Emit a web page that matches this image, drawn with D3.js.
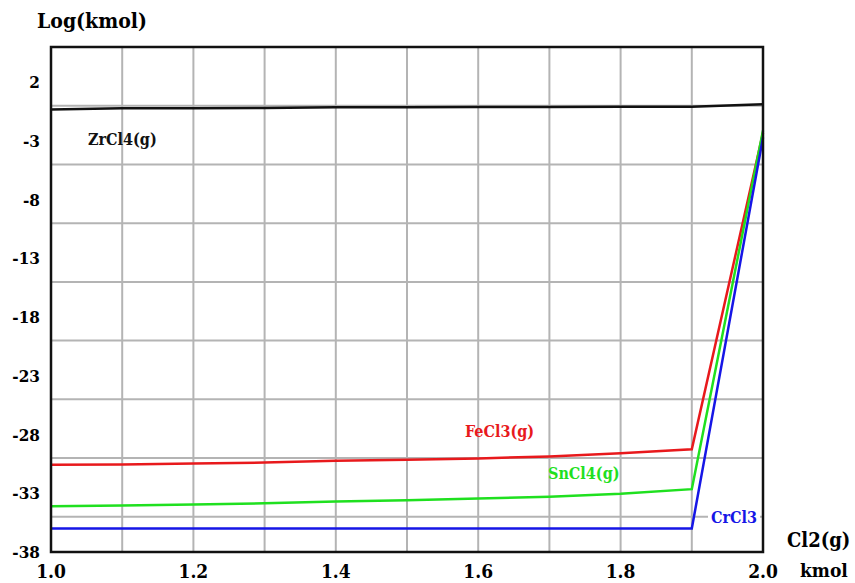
<!DOCTYPE html>
<html>
<head>
<meta charset="utf-8">
<script src="https://cdn.jsdelivr.net/npm/d3@7"></script>
<style>
  body { margin: 0; background: #fff; }
</style>
</head>
<body>
<div id="chart"></div>
<script>
// x values: Cl2(g) kmol
const xValues = [1.0, 1.1, 1.2, 1.3, 1.4, 1.5, 1.6, 1.7, 1.8, 1.9, 2.0];
// Log(kmol) per species
const zrcl4 = [-0.32, -0.22, -0.22, -0.2, -0.12, -0.12, -0.1, -0.1, -0.09, -0.08, 0.12];
const fecl3 = [-30.58, -30.54, -30.47, -30.38, -30.24, -30.15, -30.03, -29.86, -29.6, -29.26, -2.3];
const sncl4 = [-34.1, -34.05, -33.95, -33.85, -33.7, -33.6, -33.45, -33.3, -33.05, -32.65, -2.1];
const crcl3 = [-36, -36, -36, -36, -36, -36, -36, -36, -36, -36, -2.7];

const yTickLabels = [2, -3, -8, -13, -18, -23, -28, -33, -38];
const yGrid = [0, -5, -10, -15, -20, -25, -30, -35];
const xGrid = [1.1, 1.2, 1.3, 1.4, 1.5, 1.6, 1.7, 1.8, 1.9];
const xTickLabels = [1.0, 1.2, 1.4, 1.6, 1.8, 2.0];

const series = [
    { name: "ZrCl4(g)", values: zrcl4, color: "#111111", lx: 88, ly: 145 },
    { name: "FeCl3(g)", values: fecl3, color: "#e8191c", lx: 465, ly: 437 },
    { name: "SnCl4(g)", values: sncl4, color: "#1fe01f", lx: 548, ly: 479 },
    { name: "CrCl3", values: crcl3, color: "#1616e6", lx: 711, ly: 523 }
];

const W = 855, H = 583;
const margin = { top: 47, right: 92, bottom: 31, left: 51 };
const serif = "'DejaVu Serif Condensed', 'DejaVu Serif', serif";

const svg = d3.select("#chart").append("svg")
    .attr("width", W)
    .attr("height", H)
    .style("font-family", serif)
    .style("font-stretch", "condensed")
    .style("font-weight", "bold");

const xScale = d3.scaleLinear().domain([1.0, 2.0]).range([margin.left, W - margin.right]);
const yScale = d3.scaleLinear().domain([5, -38]).range([margin.top, H - margin.bottom]);

// grid
svg.append("g")
    .selectAll("line")
    .data(xGrid)
    .join("line")
    .attr("x1", d => xScale(d)).attr("x2", d => xScale(d))
    .attr("y1", yScale(5)).attr("y2", yScale(-38))
    .attr("stroke", "#b4b4b4")
    .attr("stroke-width", 2);

svg.append("g")
    .selectAll("line")
    .data(yGrid)
    .join("line")
    .attr("x1", xScale(1.0)).attr("x2", xScale(2.0))
    .attr("y1", d => yScale(d)).attr("y2", d => yScale(d))
    .attr("stroke", "#b4b4b4")
    .attr("stroke-width", 2);

// series lines
const line = d3.line()
    .x((d, i) => xScale(xValues[i]))
    .y(d => yScale(d));

svg.append("g")
    .selectAll("path")
    .data(series)
    .join("path")
    .attr("d", d => line(d.values))
    .attr("fill", "none")
    .attr("stroke", d => d.color)
    .attr("stroke-width", 2.5);

// frame
svg.append("rect")
    .attr("x", xScale(1.0)).attr("y", yScale(5))
    .attr("width", xScale(2.0) - xScale(1.0))
    .attr("height", yScale(-38) - yScale(5))
    .attr("fill", "none")
    .attr("stroke", "#111")
    .attr("stroke-width", 2.5);

// series labels
const labels = svg.append("g");
series.forEach(function(s) {
    const t = labels.append("text")
        .attr("x", s.lx)
        .attr("y", s.ly)
        .attr("fill", s.color)
        .attr("font-size", 16)
        .text(s.name);
    if (s.name == "CrCl3") {
        const bb = t.node().getBBox();
        labels.insert("rect", "text")
            .attr("x", bb.x - 3).attr("y", bb.y)
            .attr("width", bb.width + 6).attr("height", bb.height)
            .attr("fill", "#fff");
    }
});

// y tick labels
svg.append("g")
    .selectAll("text")
    .data(yTickLabels)
    .join("text")
    .attr("x", 40)
    .attr("y", d => yScale(d))
    .attr("dy", "0.35em")
    .attr("text-anchor", "end")
    .attr("font-size", 17)
    .text(d => d);

// x tick labels
svg.append("g")
    .selectAll("text")
    .data(xTickLabels)
    .join("text")
    .attr("x", d => xScale(d))
    .attr("y", 578)
    .attr("text-anchor", "middle")
    .attr("font-size", 19)
    .text(d => d3.format(".1f")(d));

// axis titles
svg.append("text")
    .attr("x", 37).attr("y", 28)
    .attr("font-size", 21)
    .text("Log(kmol)");

svg.append("text")
    .attr("x", 787).attr("y", 547)
    .attr("font-size", 20)
    .text("Cl2(g)");

svg.append("text")
    .attr("x", 800).attr("y", 577)
    .attr("font-size", 19)
    .text("kmol");
</script>
</body>
</html>
